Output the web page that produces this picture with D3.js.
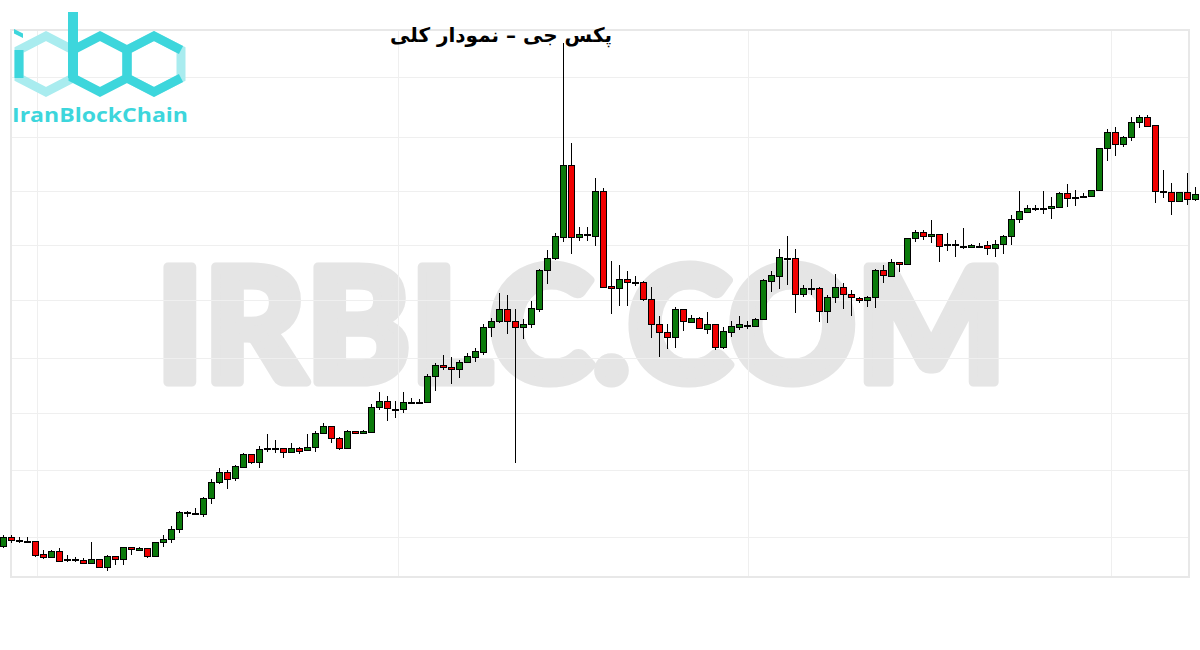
<!DOCTYPE html>
<html>
<head>
<meta charset="utf-8">
<script src="https://cdn.jsdelivr.net/npm/d3@7"></script>
<style>
  body { margin: 0; background: #fff; }
</style>
</head>
<body>
<svg id="chart" width="1200" height="650"></svg>
<script>
var opens = [1454,1463,1460,1459,1459,1446,1443,1449,1441,1441,1440,1437,1441,1433,1444,1441,1453,1450,1452,1444,
  1458,1461,1471,1488,1487,1486,1502,1518,1528,1522,1533,1546,1538,1552,1552,1552,1548,1552,1550,1553,
  1567,1574,1562,1552,1569,1567,1568,1593,1599,1591,1591,1598,1598,1598,1624,1635,1633,1631,1638,1643,
  1648,1673,1679,1691,1679,1673,1676,1691,1730,1742,1763,1835,1763,1766,1764,1809,1714,1712,1721,1718,
  1718,1701,1676,1668,1663,1691,1678,1682,1671,1676,1653,1668,1673,1675,1674,1681,1719,1724,1742,1742,
  1706,1712,1712,1689,1703,1713,1706,1702,1700,1703,1730,1724,1738,1736,1762,1768,1764,1766,1756,1756,
  1754,1753,1754,1755,1752,1756,1764,1781,1788,1792,1792,1792,1793,1807,1803,1804,1804,1810,1852,1868,
  1856,1863,1878,1883,1875,1809,1808,1799,1808,1801];
var highs = [1465,1465,1463,1463,1459,1450,1450,1452,1445,1443,1442,1458,1441,1445,1444,1453,1453,1453,1452,1458,
  1465,1474,1489,1489,1492,1503,1521,1532,1530,1535,1547,1546,1554,1566,1560,1552,1557,1553,1566,1569,
  1577,1574,1563,1570,1569,1570,1596,1608,1604,1599,1608,1602,1601,1626,1637,1645,1643,1640,1647,1652,
  1676,1682,1707,1705,1691,1681,1699,1731,1750,1767,1957,1857,1773,1773,1822,1812,1739,1735,1729,1724,
  1719,1713,1684,1676,1693,1691,1685,1683,1688,1676,1673,1679,1684,1679,1682,1721,1729,1751,1764,1751,
  1715,1721,1713,1705,1726,1717,1710,1703,1704,1731,1735,1741,1738,1762,1770,1770,1780,1766,1767,1760,
  1772,1756,1757,1759,1760,1765,1785,1809,1795,1795,1809,1803,1808,1816,1810,1807,1810,1852,1871,1873,
  1864,1883,1885,1885,1875,1830,1817,1808,1827,1813];
var lows = [1452,1457,1457,1458,1443,1441,1443,1438,1438,1438,1437,1437,1432,1429,1435,1435,1445,1449,1442,1443,
  1453,1457,1467,1483,1485,1483,1496,1516,1511,1519,1533,1536,1532,1548,1547,1542,1547,1546,1550,1548,
  1566,1557,1550,1551,1566,1566,1568,1590,1579,1582,1587,1596,1596,1597,1609,1630,1616,1622,1637,1638,
  1645,1663,1677,1666,1537,1661,1672,1688,1716,1740,1758,1746,1759,1759,1754,1713,1686,1694,1694,1714,
  1699,1662,1643,1651,1652,1669,1677,1671,1666,1650,1651,1663,1670,1671,1673,1680,1708,1711,1715,1687,
  1703,1705,1678,1677,1697,1691,1684,1697,1693,1692,1717,1724,1728,1735,1758,1760,1757,1738,1749,1743,
  1751,1752,1752,1745,1743,1746,1755,1777,1787,1789,1786,1781,1793,1793,1794,1803,1803,1809,1839,1844,
  1853,1859,1872,1873,1797,1802,1785,1798,1795,1799];
var closes = [1463,1460,1460,1459,1445,1443,1449,1439,1441,1441,1437,1441,1433,1444,1441,1453,1451,1452,1444,1458,
  1461,1471,1488,1488,1487,1502,1518,1528,1521,1534,1546,1538,1551,1552,1552,1548,1552,1549,1553,1567,
  1574,1562,1552,1569,1567,1569,1593,1599,1592,1591,1598,1598,1598,1624,1635,1633,1631,1638,1644,1649,
  1673,1679,1691,1679,1673,1676,1692,1730,1742,1764,1835,1763,1766,1766,1809,1713,1712,1721,1718,1718,
  1701,1676,1668,1663,1691,1679,1682,1672,1676,1653,1669,1674,1676,1675,1681,1720,1725,1743,1742,1706,
  1712,1712,1689,1703,1713,1706,1703,1700,1703,1730,1725,1738,1736,1762,1768,1764,1766,1754,1756,1756,
  1754,1755,1754,1752,1756,1764,1781,1789,1792,1792,1792,1794,1807,1802,1803,1804,1810,1852,1868,1856,
  1863,1878,1883,1874,1809,1809,1799,1808,1801,1806];

// faint grid positions (price levels and candle positions)
var gridPrices = [1923, 1863, 1809, 1755, 1700, 1642, 1587, 1530, 1463];
var gridCandles = [4.25, 49.375, 93.125, 138.5];

var title = "پکس جی – نمودار کلی";
var watermark = "IRBLC.COM";
var brand = "IranBlockChain";

var width = 1200,
    height = 650,
    plot = {left: 11, right: 1189, top: 30, bottom: 577};

var svg = d3.select("#chart");

var data = opens.map(function(o, i) {
  return {i: i, open: o, high: highs[i], low: lows[i], close: closes[i]};
});

var x = d3.scaleLinear()
    .domain([0, data.length - 1])
    .range([3, 1195]);

var y = d3.scaleLinear()
    .domain([1970, 1423])
    .range([plot.top, plot.bottom]);

svg.append("rect")
    .attr("width", width)
    .attr("height", height)
    .attr("fill", "#fff");

// watermark, stroked to get the heavy letters
svg.append("text")
    .attr("x", 156)
    .attr("y", 382)
    .attr("textLength", 850)
    .attr("lengthAdjust", "spacingAndGlyphs")
    .attr("font-family", "Lato, 'Open Sans', sans-serif")
    .attr("font-weight", 900)
    .attr("font-size", 158)
    .attr("fill", "#e5e5e5")
    .attr("stroke", "#e5e5e5")
    .attr("stroke-width", 9)
    .attr("stroke-linejoin", "round")
    .text(watermark);

// grid
var grid = svg.append("g")
    .attr("stroke", "#efefef")
    .attr("stroke-width", 1)
    .attr("shape-rendering", "crispEdges");

grid.selectAll(".hgrid")
    .data(gridPrices)
  .enter().append("line")
    .attr("x1", plot.left)
    .attr("x2", plot.right)
    .attr("y1", function(d) { return Math.round(y(d)) + 0.5; })
    .attr("y2", function(d) { return Math.round(y(d)) + 0.5; });

grid.selectAll(".vgrid")
    .data(gridCandles)
  .enter().append("line")
    .attr("y1", plot.top)
    .attr("y2", plot.bottom)
    .attr("x1", function(d) { return Math.round(x(d)) + 0.5; })
    .attr("x2", function(d) { return Math.round(x(d)) + 0.5; });

svg.append("rect")
    .attr("x", plot.left)
    .attr("y", plot.top)
    .attr("width", plot.right - plot.left)
    .attr("height", plot.bottom - plot.top)
    .attr("fill", "none")
    .attr("stroke", "#e8e8e8")
    .attr("stroke-width", 2);

// candles
var candles = svg.append("g")
    .attr("shape-rendering", "crispEdges")
  .selectAll("g")
    .data(data)
  .enter().append("g");

candles.append("line")
    .attr("x1", function(d) { return Math.round(x(d.i)) + 0.5; })
    .attr("x2", function(d) { return Math.round(x(d.i)) + 0.5; })
    .attr("y1", function(d) { return y(d.high); })
    .attr("y2", function(d) { return y(d.low); })
    .attr("stroke", "#000")
    .attr("stroke-width", 1);

candles.append("rect")
    .attr("x", function(d) { return Math.round(x(d.i)) - 2.5; })
    .attr("y", function(d) { return Math.round(y(Math.max(d.open, d.close))) + 0.5; })
    .attr("width", 6)
    .attr("height", function(d) {
      return Math.max(1, Math.round(Math.abs(y(d.open) - y(d.close))));
    })
    .attr("fill", function(d) {
      if (d.close > d.open) return "#0b7a0b";
      if (d.close < d.open) return "#f00000";
      return "#000";
    })
    .attr("stroke", "#000")
    .attr("stroke-width", 1);

// logo
var logo = svg.append("g");
var dark = "#3dd6dc",
    light = "#a9ecef";

function hexPoints(cx, cy) {
  var w = 27, r = 28, s = 14;
  return [[cx, cy - r], [cx + w, cy - s], [cx + w, cy + s], [cx, cy + r], [cx - w, cy + s], [cx - w, cy - s]];
}

var line = d3.line();

// i
var hi = hexPoints(46, 64);
logo.append("path")
    .attr("d", line(hi) + "Z")
    .attr("fill", "none")
    .attr("stroke", light)
    .attr("stroke-width", 9);
logo.append("path")
    .attr("d", line([hi[5], hi[4]]))
    .attr("stroke", dark)
    .attr("stroke-width", 9);
logo.append("path")
    .attr("d", line([[14, 29], [23, 33.5], [23, 38], [14, 33.5]]) + "Z")
    .attr("fill", dark);

// c
var hc = hexPoints(154, 64);
logo.append("path")
    .attr("d", line(hc) + "Z")
    .attr("fill", "none")
    .attr("stroke", light)
    .attr("stroke-width", 9);
logo.append("path")
    .attr("d", line([hc[2], hc[3], hc[4], hc[5], hc[0], hc[1]]))
    .attr("fill", "none")
    .attr("stroke", dark)
    .attr("stroke-width", 9);

// b
var hb = hexPoints(100, 64);
logo.append("path")
    .attr("d", line(hb) + "Z")
    .attr("fill", "none")
    .attr("stroke", dark)
    .attr("stroke-width", 9);
logo.append("path")
    .attr("d", line([[73, 12], [73, 78]]))
    .attr("stroke", dark)
    .attr("stroke-width", 10);

logo.append("text")
    .attr("x", 12)
    .attr("y", 122)
    .attr("textLength", 176)
    .attr("lengthAdjust", "spacingAndGlyphs")
    .attr("font-family", "'Open Sans', sans-serif")
    .attr("font-weight", "bold")
    .attr("font-size", 19)
    .attr("fill", dark)
    .text(brand);

// title
svg.append("text")
    .attr("x", 501)
    .attr("y", 42)
    .attr("text-anchor", "middle")
    .attr("font-family", "'DejaVu Sans', sans-serif")
    .attr("font-weight", "bold")
    .attr("font-size", 20)
    .attr("fill", "#000")
    .text(title);
</script>
</body>
</html>
